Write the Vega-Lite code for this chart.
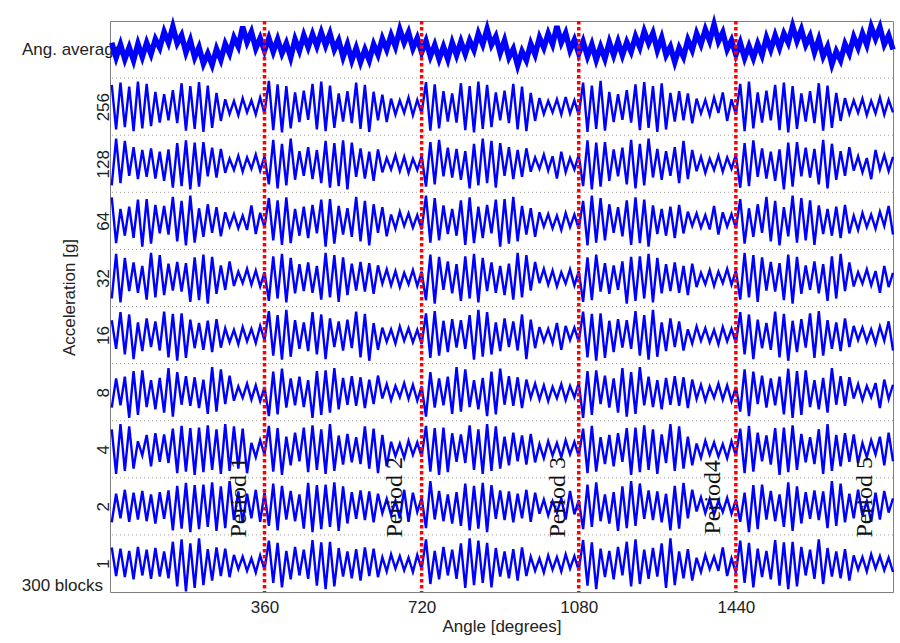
{
"$schema":"https://vega.github.io/schema/vega-lite/v6.json",
"width":783,"height":571,
"autosize":{"type":"none"},
"padding":{"left":110,"top":21,"right":7,"bottom":51},
"background":"white",
"config":{"font":"Liberation Sans","view":{"stroke":"#7f7f7f","strokeWidth":1},
"axis":{"labelFont":"Liberation Sans","titleFont":"Liberation Sans","labelFontSize":17,"titleFontSize":17,"titleFontWeight":"normal","labelColor":"#222","titleColor":"#222","domain":false}},
"datasets":{
"labels":[{"t":"Ang. average","x":36,"y":9.5},{"t":"300 blocks","x":-10,"y":0.1}],
"periods":[{"t":"Period 1","x":302,"y":1.66},{"t":"Period 2","x":660,"y":1.66},{"t":"Period 3","x":1032,"y":1.66},{"t":"Period4","x":1387,"y":1.66},{"t":"Period 5","x":1736,"y":1.66}],
"cuts":[{"x":360},{"x":720},{"x":1080},{"x":1440}],
"grid":[{"y":1},{"y":2},{"y":3},{"y":4},{"y":5},{"y":6},{"y":7},{"y":8},{"y":9}],
"sig":[
{"x":10,"a":9.62,"b":8.88,"c":7.12,"d":6.91,"e":5.14,"f":4.76,"g":3.23,"h":2.85,"i":1.22,"j":0.78},
{"x":20,"a":9.36,"b":8.10,"c":7.94,"d":6.11,"e":5.92,"f":4.26,"g":3.74,"h":2.07,"i":1.72,"j":0.28},
{"x":30,"a":9.59,"b":8.92,"c":7.16,"d":6.71,"e":5.07,"f":4.90,"g":3.27,"h":2.94,"i":1.29,"j":0.76},
{"x":40,"a":9.33,"b":8.14,"c":7.90,"d":6.24,"e":5.85,"f":4.16,"g":3.77,"h":2.12,"i":1.79,"j":0.26},
{"x":50,"a":9.54,"b":8.85,"c":7.29,"d":6.75,"e":5.27,"f":4.86,"g":3.05,"h":2.90,"i":1.23,"j":0.72},
{"x":60,"a":9.31,"b":8.07,"c":7.79,"d":6.20,"e":5.77,"f":4.08,"g":3.87,"h":2.16,"i":1.74,"j":0.22},
{"x":70,"a":9.60,"b":8.94,"c":7.23,"d":6.87,"e":5.24,"f":4.72,"g":3.10,"h":2.64,"i":1.27,"j":0.79},
{"x":80,"a":9.37,"b":8.12,"c":7.74,"d":6.05,"e":5.71,"f":4.22,"g":3.88,"h":2.39,"i":1.77,"j":0.29},
{"x":90,"a":9.62,"b":8.90,"c":7.27,"d":6.88,"e":5.12,"f":4.79,"g":3.24,"h":2.75,"i":1.24,"j":0.74},
{"x":100,"a":9.42,"b":8.16,"c":7.77,"d":6.10,"e":5.94,"f":4.29,"g":3.71,"h":2.20,"i":1.71,"j":0.23},
{"x":110,"a":9.68,"b":8.76,"c":7.24,"d":6.78,"e":5.16,"f":4.74,"g":3.20,"h":2.78,"i":1.20,"j":0.77},
{"x":120,"a":9.53,"b":8.22,"c":7.71,"d":6.28,"e":5.90,"f":4.23,"g":3.75,"h":2.28,"i":1.75,"j":0.27},
{"x":130,"a":9.81,"b":8.72,"c":7.20,"d":6.76,"e":5.20,"f":4.91,"g":3.14,"h":2.76,"i":1.28,"j":0.71},
{"x":140,"a":9.62,"b":8.26,"c":7.75,"d":6.26,"e":5.75,"f":4.11,"g":3.92,"h":2.26,"i":1.78,"j":0.24},
{"x":150,"a":9.90,"b":8.79,"c":7.08,"d":6.92,"e":5.28,"f":4.87,"g":3.07,"h":2.86,"i":1.08,"j":0.88},
{"x":160,"a":9.61,"b":8.21,"c":7.86,"d":6.14,"e":5.78,"f":4.05,"g":3.85,"h":2.08,"i":1.86,"j":0.10},
{"x":170,"a":9.75,"b":8.91,"c":7.11,"d":6.85,"e":5.26,"f":4.88,"g":3.28,"h":2.91,"i":1.11,"j":0.92},
{"x":180,"a":9.45,"b":8.08,"c":7.91,"d":6.07,"e":5.76,"f":4.10,"g":3.78,"h":2.11,"i":1.91,"j":0.01},
{"x":190,"a":9.66,"b":8.86,"c":7.05,"d":6.94,"e":5.08,"f":4.77,"g":3.26,"h":2.87,"i":1.05,"j":0.85},
{"x":200,"a":9.36,"b":8.11,"c":7.87,"d":6.12,"e":5.86,"f":4.27,"g":3.76,"h":2.05,"i":1.87,"j":0.07},
{"x":210,"a":9.54,"b":8.93,"c":7.10,"d":6.72,"e":5.11,"f":4.71,"g":3.22,"h":2.88,"i":1.10,"j":0.94},
{"x":220,"a":9.25,"b":8.06,"c":7.88,"d":6.22,"e":5.91,"f":4.24,"g":3.72,"h":2.10,"i":1.88,"j":0.12},
{"x":230,"a":9.43,"b":8.87,"c":7.28,"d":6.79,"e":5.05,"f":4.75,"g":3.12,"h":2.92,"i":1.14,"j":0.75},
{"x":240,"a":9.23,"b":8.13,"c":7.78,"d":6.29,"e":5.87,"f":4.20,"g":3.94,"h":2.14,"i":1.92,"j":0.20},
{"x":250,"a":9.51,"b":8.74,"c":7.26,"d":6.74,"e":5.22,"f":4.78,"g":3.16,"h":2.85,"i":1.07,"j":0.78},
{"x":260,"a":9.32,"b":8.25,"c":7.76,"d":6.23,"e":5.72,"f":4.28,"g":3.90,"h":2.07,"i":1.85,"j":0.28},
{"x":270,"a":9.60,"b":8.63,"c":7.34,"d":6.65,"e":5.29,"f":4.62,"g":3.29,"h":2.94,"i":1.12,"j":0.76},
{"x":280,"a":9.43,"b":8.37,"c":7.59,"d":6.40,"e":5.79,"f":4.37,"g":3.79,"h":2.12,"i":1.94,"j":0.26},
{"x":290,"a":9.71,"b":8.60,"c":7.39,"d":6.62,"e":5.36,"f":4.59,"g":3.35,"h":2.90,"i":1.26,"j":0.65},
{"x":300,"a":9.55,"b":8.35,"c":7.64,"d":6.37,"e":5.61,"f":4.34,"g":3.60,"h":2.16,"i":1.76,"j":0.40},
{"x":310,"a":9.90,"b":8.65,"c":7.36,"d":6.59,"e":5.41,"f":4.64,"g":3.40,"h":2.86,"i":1.22,"j":0.62},
{"x":320,"a":9.63,"b":8.40,"c":7.61,"d":6.34,"e":5.66,"f":4.39,"g":3.65,"h":2.08,"i":1.72,"j":0.37},
{"x":330,"a":9.81,"b":8.61,"c":7.41,"d":6.77,"e":5.38,"f":4.61,"g":3.37,"h":2.61,"i":1.29,"j":0.59},
{"x":340,"a":9.52,"b":8.36,"c":7.66,"d":6.27,"e":5.63,"f":4.36,"g":3.62,"h":2.36,"i":1.79,"j":0.34},
{"x":350,"a":9.70,"b":8.66,"c":7.38,"d":6.64,"e":5.35,"f":4.66,"g":3.34,"h":2.66,"i":1.23,"j":0.64},
{"x":360,"a":9.48,"b":8.38,"c":7.63,"d":6.39,"e":5.60,"f":4.41,"g":3.59,"h":2.41,"i":1.74,"j":0.39},
{"x":370,"a":9.70,"b":8.95,"c":7.14,"d":6.90,"e":5.10,"f":4.92,"g":3.08,"h":2.91,"i":1.16,"j":0.90},
{"x":380,"a":9.46,"b":8.09,"c":7.92,"d":6.16,"e":5.88,"f":4.14,"g":3.86,"h":2.11,"i":1.90,"j":0.16},
{"x":390,"a":9.68,"b":8.89,"c":7.07,"d":6.86,"e":5.14,"f":4.85,"g":3.11,"h":2.87,"i":1.08,"j":0.86},
{"x":400,"a":9.43,"b":8.05,"c":7.85,"d":6.08,"e":5.92,"f":4.07,"g":3.91,"h":2.05,"i":1.86,"j":0.08},
{"x":410,"a":9.61,"b":8.86,"c":7.12,"d":6.91,"e":5.07,"f":4.94,"g":3.23,"h":2.72,"i":1.27,"j":0.72},
{"x":420,"a":9.36,"b":8.12,"c":7.94,"d":6.11,"e":5.85,"f":4.12,"g":3.74,"h":2.22,"i":1.77,"j":0.22},
{"x":430,"a":9.68,"b":8.75,"c":7.22,"d":6.71,"e":5.23,"f":4.76,"g":3.27,"h":2.79,"i":1.24,"j":0.79},
{"x":440,"a":9.48,"b":8.23,"c":7.72,"d":6.24,"e":5.74,"f":4.26,"g":3.77,"h":2.29,"i":1.71,"j":0.29},
{"x":450,"a":9.75,"b":8.78,"c":7.29,"d":6.75,"e":5.27,"f":4.72,"g":3.24,"h":2.88,"i":1.11,"j":0.74},
{"x":460,"a":9.54,"b":8.27,"c":7.79,"d":6.20,"e":5.77,"f":4.22,"g":3.71,"h":2.10,"i":1.91,"j":0.23},
{"x":470,"a":9.77,"b":8.90,"c":7.23,"d":6.78,"e":5.24,"f":4.90,"g":3.05,"h":2.92,"i":1.05,"j":0.91},
{"x":480,"a":9.56,"b":8.10,"c":7.74,"d":6.28,"e":5.71,"f":4.16,"g":3.87,"h":2.14,"i":1.87,"j":0.11},
{"x":490,"a":9.80,"b":8.94,"c":7.16,"d":6.87,"e":5.12,"f":4.86,"g":3.10,"h":2.85,"i":1.10,"j":0.87},
{"x":500,"a":9.57,"b":8.07,"c":7.90,"d":6.05,"e":5.94,"f":4.08,"g":3.88,"h":2.07,"i":1.88,"j":0.05},
{"x":510,"a":9.78,"b":8.87,"c":7.08,"d":6.88,"e":5.16,"f":4.79,"g":3.14,"h":2.94,"i":1.14,"j":0.88},
{"x":520,"a":9.50,"b":8.13,"c":7.86,"d":6.10,"e":5.90,"f":4.29,"g":3.92,"h":2.12,"i":1.92,"j":0.10},
{"x":530,"a":9.66,"b":8.73,"c":7.11,"d":6.76,"e":5.08,"f":4.74,"g":3.20,"h":2.74,"i":1.07,"j":0.77},
{"x":540,"a":9.37,"b":8.24,"c":7.91,"d":6.26,"e":5.86,"f":4.23,"g":3.75,"h":2.23,"i":1.85,"j":0.27},
{"x":550,"a":9.59,"b":8.77,"c":7.05,"d":6.72,"e":5.20,"f":4.77,"g":3.28,"h":2.77,"i":1.20,"j":0.71},
{"x":560,"a":9.31,"b":8.21,"c":7.87,"d":6.22,"e":5.75,"f":4.27,"g":3.78,"h":2.27,"i":1.75,"j":0.24},
{"x":570,"a":9.53,"b":8.92,"c":7.27,"d":6.92,"e":5.28,"f":4.91,"g":3.26,"h":2.71,"i":1.28,"j":0.75},
{"x":580,"a":9.28,"b":8.11,"c":7.77,"d":6.14,"e":5.78,"f":4.11,"g":3.76,"h":2.24,"i":1.78,"j":0.20},
{"x":590,"a":9.50,"b":8.88,"c":7.24,"d":6.85,"e":5.26,"f":4.87,"g":3.22,"h":2.90,"i":1.26,"j":0.78},
{"x":600,"a":9.31,"b":8.06,"c":7.71,"d":6.07,"e":5.76,"f":4.05,"g":3.72,"h":2.16,"i":1.76,"j":0.28},
{"x":610,"a":9.59,"b":8.76,"c":7.20,"d":6.79,"e":5.22,"f":4.71,"g":3.29,"h":2.86,"i":1.22,"j":0.76},
{"x":620,"a":9.41,"b":8.26,"c":7.75,"d":6.29,"e":5.72,"f":4.24,"g":3.79,"h":2.08,"i":1.72,"j":0.26},
{"x":630,"a":9.69,"b":8.71,"c":7.35,"d":6.74,"e":5.40,"f":4.63,"g":3.39,"h":2.75,"i":1.38,"j":0.61},
{"x":640,"a":9.50,"b":8.23,"c":7.60,"d":6.23,"e":5.65,"f":4.38,"g":3.64,"h":2.20,"i":1.63,"j":0.36},
{"x":650,"a":9.75,"b":8.64,"c":7.40,"d":6.61,"e":5.37,"f":4.60,"g":3.36,"h":2.63,"i":1.35,"j":0.66},
{"x":660,"a":9.55,"b":8.36,"c":7.65,"d":6.36,"e":5.62,"f":4.35,"g":3.61,"h":2.38,"i":1.60,"j":0.41},
{"x":670,"a":9.85,"b":8.61,"c":7.37,"d":6.66,"e":5.34,"f":4.65,"g":3.41,"h":2.60,"i":1.29,"j":0.63},
{"x":680,"a":9.62,"b":8.39,"c":7.62,"d":6.41,"e":5.59,"f":4.40,"g":3.66,"h":2.35,"i":1.79,"j":0.38},
{"x":690,"a":9.80,"b":8.66,"c":7.34,"d":6.63,"e":5.39,"f":4.62,"g":3.38,"h":2.65,"i":1.23,"j":0.60},
{"x":700,"a":9.52,"b":8.35,"c":7.59,"d":6.38,"e":5.64,"f":4.37,"g":3.63,"h":2.40,"i":1.74,"j":0.35},
{"x":710,"a":9.70,"b":8.62,"c":7.39,"d":6.60,"e":5.36,"f":4.59,"g":3.35,"h":2.62,"i":1.40,"j":0.65},
{"x":720,"a":9.45,"b":8.38,"c":7.64,"d":6.35,"e":5.61,"f":4.34,"g":3.60,"h":2.37,"i":1.65,"j":0.40},
{"x":730,"a":9.65,"b":8.93,"c":7.10,"d":6.94,"e":5.11,"f":4.88,"g":3.07,"h":2.91,"i":1.12,"j":0.92},
{"x":740,"a":9.38,"b":8.08,"c":7.88,"d":6.12,"e":5.91,"f":4.10,"g":3.85,"h":2.11,"i":1.94,"j":0.14},
{"x":750,"a":9.58,"b":8.89,"c":7.14,"d":6.90,"e":5.05,"f":4.92,"g":3.23,"h":2.87,"i":1.27,"j":0.72},
{"x":760,"a":9.33,"b":8.12,"c":7.92,"d":6.16,"e":5.87,"f":4.14,"g":3.74,"h":2.05,"i":1.77,"j":0.22},
{"x":770,"a":9.55,"b":8.77,"c":7.28,"d":6.77,"e":5.29,"f":4.75,"g":3.27,"h":2.88,"i":1.24,"j":0.79},
{"x":780,"a":9.33,"b":8.24,"c":7.78,"d":6.27,"e":5.79,"f":4.20,"g":3.77,"h":2.10,"i":1.71,"j":0.29},
{"x":790,"a":9.62,"b":8.73,"c":7.26,"d":6.71,"e":5.23,"f":4.78,"g":3.12,"h":2.78,"i":1.20,"j":0.74},
{"x":800,"a":9.40,"b":8.22,"c":7.76,"d":6.24,"e":5.74,"f":4.28,"g":3.94,"h":2.28,"i":1.75,"j":0.23},
{"x":810,"a":9.64,"b":8.91,"c":7.22,"d":6.86,"e":5.10,"f":4.76,"g":3.16,"h":2.76,"i":1.16,"j":0.85},
{"x":820,"a":9.42,"b":8.09,"c":7.72,"d":6.08,"e":5.88,"f":4.26,"g":3.90,"h":2.26,"i":1.90,"j":0.07},
{"x":830,"a":9.66,"b":8.86,"c":7.07,"d":6.91,"e":5.14,"f":4.85,"g":3.24,"h":2.92,"i":1.08,"j":0.94},
{"x":840,"a":9.49,"b":8.05,"c":7.85,"d":6.11,"e":5.92,"f":4.07,"g":3.71,"h":2.14,"i":1.86,"j":0.12},
{"x":850,"a":9.78,"b":8.94,"c":7.12,"d":6.75,"e":5.07,"f":4.94,"g":3.20,"h":2.85,"i":1.11,"j":0.90},
{"x":860,"a":9.59,"b":8.11,"c":7.94,"d":6.20,"e":5.85,"f":4.12,"g":3.75,"h":2.07,"i":1.91,"j":0.16},
{"x":870,"a":9.86,"b":8.88,"c":7.16,"d":6.78,"e":5.27,"f":4.90,"g":3.08,"h":2.94,"i":1.05,"j":0.86},
{"x":880,"a":9.58,"b":8.14,"c":7.90,"d":6.28,"e":5.77,"f":4.16,"g":3.86,"h":2.12,"i":1.87,"j":0.08},
{"x":890,"a":9.73,"b":8.75,"c":7.08,"d":6.87,"e":5.24,"f":4.72,"g":3.11,"h":2.90,"i":1.28,"j":0.77},
{"x":900,"a":9.44,"b":8.26,"c":7.86,"d":6.05,"e":5.71,"f":4.22,"g":3.91,"h":2.16,"i":1.78,"j":0.27},
{"x":910,"a":9.66,"b":8.78,"c":7.29,"d":6.88,"e":5.20,"f":4.79,"g":3.28,"h":2.72,"i":1.26,"j":0.71},
{"x":920,"a":9.36,"b":8.21,"c":7.79,"d":6.10,"e":5.75,"f":4.29,"g":3.78,"h":2.22,"i":1.76,"j":0.24},
{"x":930,"a":9.51,"b":8.90,"c":7.23,"d":6.92,"e":5.12,"f":4.74,"g":3.26,"h":2.79,"i":1.22,"j":0.75},
{"x":940,"a":9.22,"b":8.10,"c":7.74,"d":6.14,"e":5.94,"f":4.23,"g":3.76,"h":2.29,"i":1.72,"j":0.20},
{"x":950,"a":9.47,"b":8.85,"c":7.27,"d":6.76,"e":5.16,"f":4.86,"g":3.22,"h":2.74,"i":1.29,"j":0.78},
{"x":960,"a":9.31,"b":8.07,"c":7.77,"d":6.26,"e":5.90,"f":4.08,"g":3.72,"h":2.23,"i":1.79,"j":0.28},
{"x":970,"a":9.60,"b":8.74,"c":7.36,"d":6.72,"e":5.28,"f":4.77,"g":3.40,"h":2.77,"i":1.23,"j":0.62},
{"x":980,"a":9.41,"b":8.25,"c":7.61,"d":6.22,"e":5.78,"f":4.27,"g":3.65,"h":2.27,"i":1.74,"j":0.37},
{"x":990,"a":9.71,"b":8.65,"c":7.41,"d":6.65,"e":5.41,"f":4.64,"g":3.37,"h":2.59,"i":1.37,"j":0.59},
{"x":1000,"a":9.53,"b":8.37,"c":7.66,"d":6.40,"e":5.66,"f":4.39,"g":3.62,"h":2.34,"i":1.62,"j":0.34},
{"x":1010,"a":9.78,"b":8.60,"c":7.38,"d":6.62,"e":5.38,"f":4.61,"g":3.34,"h":2.64,"i":1.34,"j":0.64},
{"x":1020,"a":9.59,"b":8.40,"c":7.63,"d":6.37,"e":5.63,"f":4.36,"g":3.59,"h":2.39,"i":1.59,"j":0.39},
{"x":1030,"a":9.91,"b":8.63,"c":7.24,"d":6.59,"e":5.35,"f":4.71,"g":3.39,"h":2.61,"i":1.39,"j":0.61},
{"x":1040,"a":9.62,"b":8.36,"c":7.71,"d":6.34,"e":5.60,"f":4.24,"g":3.64,"h":2.36,"i":1.64,"j":0.36},
{"x":1050,"a":9.79,"b":8.67,"c":7.35,"d":6.64,"e":5.40,"f":4.66,"g":3.36,"h":2.66,"i":1.27,"j":0.66},
{"x":1060,"a":9.49,"b":8.38,"c":7.60,"d":6.39,"e":5.65,"f":4.41,"g":3.61,"h":2.41,"i":1.77,"j":0.41},
{"x":1070,"a":9.67,"b":8.61,"c":7.40,"d":6.61,"e":5.37,"f":4.63,"g":3.41,"h":2.63,"i":1.36,"j":0.63},
{"x":1080,"a":9.43,"b":8.35,"c":7.65,"d":6.36,"e":5.62,"f":4.38,"g":3.66,"h":2.38,"i":1.61,"j":0.38},
{"x":1090,"a":9.64,"b":8.92,"c":7.11,"d":6.85,"e":5.08,"f":4.91,"g":3.05,"h":2.86,"i":1.10,"j":0.91},
{"x":1100,"a":9.38,"b":8.06,"c":7.91,"d":6.07,"e":5.86,"f":4.11,"g":3.87,"h":2.08,"i":1.88,"j":0.11},
{"x":1110,"a":9.59,"b":8.87,"c":7.05,"d":6.94,"e":5.11,"f":4.87,"g":3.10,"h":2.91,"i":1.14,"j":0.87},
{"x":1120,"a":9.32,"b":8.11,"c":7.87,"d":6.12,"e":5.91,"f":4.05,"g":3.88,"h":2.11,"i":1.92,"j":0.05},
{"x":1130,"a":9.55,"b":8.95,"c":7.10,"d":6.90,"e":5.26,"f":4.88,"g":3.29,"h":2.71,"i":1.24,"j":0.76},
{"x":1140,"a":9.34,"b":8.08,"c":7.88,"d":6.16,"e":5.76,"f":4.10,"g":3.79,"h":2.24,"i":1.71,"j":0.26},
{"x":1150,"a":9.63,"b":8.76,"c":7.20,"d":6.79,"e":5.22,"f":4.75,"g":3.23,"h":2.75,"i":1.20,"j":0.72},
{"x":1160,"a":9.40,"b":8.23,"c":7.75,"d":6.29,"e":5.72,"f":4.20,"g":3.74,"h":2.20,"i":1.75,"j":0.22},
{"x":1170,"a":9.64,"b":8.72,"c":7.28,"d":6.74,"e":5.29,"f":4.78,"g":3.14,"h":2.78,"i":1.07,"j":0.79},
{"x":1180,"a":9.40,"b":8.27,"c":7.78,"d":6.23,"e":5.79,"f":4.28,"g":3.92,"h":2.28,"i":1.85,"j":0.29},
{"x":1190,"a":9.63,"b":8.79,"c":7.14,"d":6.86,"e":5.05,"f":4.76,"g":3.07,"h":2.87,"i":1.12,"j":0.88},
{"x":1200,"a":9.46,"b":8.22,"c":7.92,"d":6.08,"e":5.87,"f":4.26,"g":3.85,"h":2.05,"i":1.94,"j":0.10},
{"x":1210,"a":9.73,"b":8.89,"c":7.07,"d":6.91,"e":5.10,"f":4.92,"g":3.12,"h":2.88,"i":1.16,"j":0.92},
{"x":1220,"a":9.54,"b":8.09,"c":7.85,"d":6.11,"e":5.88,"f":4.14,"g":3.94,"h":2.10,"i":1.90,"j":0.14},
{"x":1230,"a":9.82,"b":8.93,"c":7.12,"d":6.87,"e":5.14,"f":4.85,"g":3.27,"h":2.92,"i":1.28,"j":0.74},
{"x":1240,"a":9.61,"b":8.13,"c":7.94,"d":6.05,"e":5.92,"f":4.07,"g":3.77,"h":2.14,"i":1.78,"j":0.23},
{"x":1250,"a":9.79,"b":8.86,"c":7.26,"d":6.77,"e":5.07,"f":4.94,"g":3.24,"h":2.85,"i":1.26,"j":0.77},
{"x":1260,"a":9.49,"b":8.06,"c":7.76,"d":6.27,"e":5.85,"f":4.12,"g":3.71,"h":2.07,"i":1.76,"j":0.27},
{"x":1270,"a":9.71,"b":8.91,"c":7.22,"d":6.71,"e":5.23,"f":4.72,"g":3.20,"h":2.76,"i":1.22,"j":0.85},
{"x":1280,"a":9.40,"b":8.10,"c":7.72,"d":6.24,"e":5.74,"f":4.22,"g":3.75,"h":2.26,"i":1.72,"j":0.07},
{"x":1290,"a":9.55,"b":8.74,"c":7.29,"d":6.75,"e":5.27,"f":4.79,"g":3.28,"h":2.94,"i":1.08,"j":0.94},
{"x":1300,"a":9.28,"b":8.24,"c":7.79,"d":6.20,"e":5.77,"f":4.29,"g":3.78,"h":2.12,"i":1.86,"j":0.12},
{"x":1310,"a":9.53,"b":8.77,"c":7.16,"d":6.78,"e":5.24,"f":4.74,"g":3.26,"h":2.90,"i":1.11,"j":0.71},
{"x":1320,"a":9.37,"b":8.26,"c":7.90,"d":6.28,"e":5.71,"f":4.23,"g":3.76,"h":2.16,"i":1.91,"j":0.24},
{"x":1330,"a":9.67,"b":8.73,"c":7.23,"d":6.66,"e":5.20,"f":4.60,"g":3.22,"h":2.72,"i":1.29,"j":0.75},
{"x":1340,"a":9.49,"b":8.21,"c":7.74,"d":6.41,"e":5.75,"f":4.35,"g":3.72,"h":2.22,"i":1.79,"j":0.20},
{"x":1350,"a":9.78,"b":8.64,"c":7.37,"d":6.63,"e":5.34,"f":4.65,"g":3.38,"h":2.60,"i":1.41,"j":0.60},
{"x":1360,"a":9.59,"b":8.38,"c":7.62,"d":6.38,"e":5.59,"f":4.40,"g":3.63,"h":2.35,"i":1.66,"j":0.35},
{"x":1370,"a":9.85,"b":8.62,"c":7.34,"d":6.60,"e":5.39,"f":4.62,"g":3.35,"h":2.65,"i":1.38,"j":0.65},
{"x":1380,"a":9.65,"b":8.35,"c":7.59,"d":6.35,"e":5.64,"f":4.37,"g":3.60,"h":2.40,"i":1.63,"j":0.40},
{"x":1390,"a":9.94,"b":8.66,"c":7.39,"d":6.76,"e":5.36,"f":4.59,"g":3.40,"h":2.62,"i":1.35,"j":0.62},
{"x":1400,"a":9.64,"b":8.39,"c":7.64,"d":6.26,"e":5.61,"f":4.34,"g":3.65,"h":2.37,"i":1.60,"j":0.37},
{"x":1410,"a":9.80,"b":8.75,"c":7.36,"d":6.65,"e":5.41,"f":4.64,"g":3.37,"h":2.59,"i":1.40,"j":0.78},
{"x":1420,"a":9.50,"b":8.25,"c":7.61,"d":6.40,"e":5.66,"f":4.39,"g":3.62,"h":2.34,"i":1.65,"j":0.28},
{"x":1430,"a":9.66,"b":8.63,"c":7.41,"d":6.62,"e":5.38,"f":4.61,"g":3.34,"h":2.64,"i":1.37,"j":0.59},
{"x":1440,"a":9.41,"b":8.36,"c":7.66,"d":6.37,"e":5.63,"f":4.36,"g":3.59,"h":2.39,"i":1.62,"j":0.34},
{"x":1450,"a":9.62,"b":8.90,"c":7.08,"d":6.88,"e":5.12,"f":4.90,"g":3.16,"h":2.86,"i":1.23,"j":0.90},
{"x":1460,"a":9.35,"b":8.07,"c":7.86,"d":6.10,"e":5.94,"f":4.16,"g":3.90,"h":2.08,"i":1.74,"j":0.16},
{"x":1470,"a":9.56,"b":8.94,"c":7.11,"d":6.72,"e":5.16,"f":4.86,"g":3.08,"h":2.91,"i":1.05,"j":0.86},
{"x":1480,"a":9.35,"b":8.12,"c":7.91,"d":6.22,"e":5.90,"f":4.08,"g":3.86,"h":2.11,"i":1.87,"j":0.08},
{"x":1490,"a":9.60,"b":8.75,"c":7.27,"d":6.79,"e":5.08,"f":4.77,"g":3.29,"h":2.79,"i":1.10,"j":0.76},
{"x":1500,"a":9.40,"b":8.22,"c":7.77,"d":6.29,"e":5.86,"f":4.27,"g":3.79,"h":2.29,"i":1.88,"j":0.26},
{"x":1510,"a":9.71,"b":8.78,"c":7.24,"d":6.92,"e":5.28,"f":4.71,"g":3.23,"h":2.74,"i":1.27,"j":0.72},
{"x":1520,"a":9.50,"b":8.26,"c":7.71,"d":6.14,"e":5.78,"f":4.24,"g":3.74,"h":2.23,"i":1.77,"j":0.22},
{"x":1530,"a":9.75,"b":8.88,"c":7.20,"d":6.85,"e":5.26,"f":4.91,"g":3.27,"h":2.87,"i":1.24,"j":0.91},
{"x":1540,"a":9.53,"b":8.09,"c":7.75,"d":6.07,"e":5.76,"f":4.11,"g":3.77,"h":2.05,"i":1.71,"j":0.11},
{"x":1550,"a":9.78,"b":8.92,"c":7.05,"d":6.74,"e":5.11,"f":4.87,"g":3.11,"h":2.88,"i":1.14,"j":0.87},
{"x":1560,"a":9.62,"b":8.05,"c":7.87,"d":6.23,"e":5.91,"f":4.05,"g":3.91,"h":2.10,"i":1.92,"j":0.05},
{"x":1570,"a":9.91,"b":8.86,"c":7.10,"d":6.94,"e":5.05,"f":4.75,"g":3.05,"h":2.92,"i":1.07,"j":0.88},
{"x":1580,"a":9.65,"b":8.11,"c":7.88,"d":6.12,"e":5.87,"f":4.20,"g":3.87,"h":2.14,"i":1.85,"j":0.10},
{"x":1590,"a":9.85,"b":8.73,"c":7.28,"d":6.90,"e":5.22,"f":4.78,"g":3.10,"h":2.77,"i":1.20,"j":0.79},
{"x":1600,"a":9.58,"b":8.24,"c":7.78,"d":6.16,"e":5.72,"f":4.28,"g":3.88,"h":2.27,"i":1.75,"j":0.29},
{"x":1610,"a":9.74,"b":8.77,"c":7.26,"d":6.86,"e":5.29,"f":4.88,"g":3.24,"h":2.71,"i":1.28,"j":0.74},
{"x":1620,"a":9.45,"b":8.21,"c":7.76,"d":6.08,"e":5.79,"f":4.10,"g":3.71,"h":2.24,"i":1.78,"j":0.23},
{"x":1630,"a":9.68,"b":8.91,"c":7.14,"d":6.77,"e":5.23,"f":4.92,"g":3.20,"h":2.85,"i":1.26,"j":0.92},
{"x":1640,"a":9.38,"b":8.08,"c":7.92,"d":6.27,"e":5.74,"f":4.14,"g":3.75,"h":2.07,"i":1.76,"j":0.14},
{"x":1650,"a":9.55,"b":8.87,"c":7.07,"d":6.71,"e":5.10,"f":4.76,"g":3.14,"h":2.94,"i":1.12,"j":0.77},
{"x":1660,"a":9.24,"b":8.13,"c":7.85,"d":6.24,"e":5.88,"f":4.26,"g":3.92,"h":2.12,"i":1.94,"j":0.27},
{"x":1670,"a":9.47,"b":8.74,"c":7.22,"d":6.75,"e":5.14,"f":4.72,"g":3.28,"h":2.75,"i":1.16,"j":0.71},
{"x":1680,"a":9.31,"b":8.25,"c":7.72,"d":6.20,"e":5.92,"f":4.22,"g":3.78,"h":2.20,"i":1.90,"j":0.24},
{"x":1690,"a":9.60,"b":8.65,"c":7.29,"d":6.78,"e":5.27,"f":4.79,"g":3.26,"h":2.78,"i":1.22,"j":0.75},
{"x":1700,"a":9.43,"b":8.37,"c":7.79,"d":6.28,"e":5.77,"f":4.29,"g":3.76,"h":2.28,"i":1.72,"j":0.20},
{"x":1710,"a":9.72,"b":8.61,"c":7.38,"d":6.59,"e":5.35,"f":4.66,"g":3.39,"h":2.76,"i":1.29,"j":0.64},
{"x":1720,"a":9.53,"b":8.39,"c":7.63,"d":6.34,"e":5.60,"f":4.41,"g":3.64,"h":2.26,"i":1.79,"j":0.39},
{"x":1730,"a":9.78,"b":8.64,"c":7.35,"d":6.64,"e":5.40,"f":4.63,"g":3.36,"h":2.61,"i":1.34,"j":0.61},
{"x":1740,"a":9.58,"b":8.35,"c":7.60,"d":6.39,"e":5.65,"f":4.38,"g":3.61,"h":2.36,"i":1.59,"j":0.36},
{"x":1750,"a":9.90,"b":8.60,"c":7.23,"d":6.61,"e":5.37,"f":4.60,"g":3.41,"h":2.66,"i":1.23,"j":0.66},
{"x":1760,"a":9.69,"b":8.38,"c":7.74,"d":6.36,"e":5.62,"f":4.35,"g":3.66,"h":2.41,"i":1.74,"j":0.41},
{"x":1770,"a":9.89,"b":8.66,"c":7.40,"d":6.66,"e":5.24,"f":4.65,"g":3.22,"h":2.72,"i":1.27,"j":0.63},
{"x":1780,"a":9.59,"b":8.36,"c":7.65,"d":6.41,"e":5.71,"f":4.40,"g":3.72,"h":2.22,"i":1.77,"j":0.38},
{"x":1790,"a":9.75,"b":8.62,"c":7.37,"d":6.76,"e":5.34,"f":4.74,"g":3.38,"h":2.79,"i":1.39,"j":0.60},
{"x":1800,"a":9.50,"b":8.40,"c":7.62,"d":6.26,"e":5.59,"f":4.23,"g":3.63,"h":2.29,"i":1.64,"j":0.35}
]},
"layer":[
{"data":{"name":"grid"},
"mark":{"type":"rule","color":"#a0a0a0","strokeWidth":1,"strokeDash":[1,3]},
"encoding":{"y":{"field":"y","type":"quantitative","scale":{"domain":[0,10],"nice":false}}}},
{"data":{"name":"labels"},
"mark":{"type":"text","align":"right","baseline":"middle","fontSize":17,"font":"Liberation Sans","color":"#222"},
"encoding":{"x":{"field":"x","type":"quantitative","scale":{"domain":[6,1800],"nice":false,"zero":false}},
"y":{"field":"y","type":"quantitative","scale":{"domain":[0,10],"nice":false}},
"text":{"field":"t"}}},
{"data":{"name":"sig"},
"transform":[{"fold":["b","c","d","e","f","g","h","i","j"],"as":["k","v"]}],
"mark":{"type":"line","color":"#0000ff","strokeWidth":2.4},
"encoding":{
"x":{"field":"x","type":"quantitative","scale":{"domain":[6,1800],"nice":false,"zero":false},
"axis":{"values":[360,720,1080,1440],"format":"d","title":"Angle [degrees]","grid":false,"ticks":false,"labelPadding":7,"titlePadding":3,"labelFlush":false}},
"y":{"field":"v","type":"quantitative","scale":{"domain":[0,10],"nice":false},
"axis":{"values":[0.5,1.5,2.5,3.5,4.5,5.5,6.5,7.5,8.5],"title":"Acceleration [g]",
"labelExpr":"['1','2','4','8','16','32','64','128','256'][floor(datum.value)]",
"labelFont":"Liberation Sans","labelAngle":270,"labelAlign":"center","labelBaseline":"alphabetic","labelPadding":2,"ticks":false,
"grid":false,"titlePadding":16,"titleY":276}},
"detail":{"field":"k"}}},
{"data":{"name":"sig"},
"mark":{"type":"line","color":"#0000ff","strokeWidth":5.5},
"encoding":{
"x":{"field":"x","type":"quantitative","scale":{"domain":[6,1800],"nice":false,"zero":false}},
"y":{"field":"a","type":"quantitative","scale":{"domain":[0,10],"nice":false}}}},
{"data":{"name":"cuts"},
"mark":{"type":"rule","color":"#ff0000","strokeWidth":3.5,"strokeDash":[3.5,2.5]},
"encoding":{"x":{"field":"x","type":"quantitative","scale":{"domain":[6,1800],"nice":false,"zero":false}}}},
{"data":{"name":"periods"},
"mark":{"type":"text","angle":270,"align":"center","baseline":"middle","fontSize":24,"font":"Liberation Serif","color":"#111"},
"encoding":{"x":{"field":"x","type":"quantitative","scale":{"domain":[6,1800],"nice":false,"zero":false}},
"y":{"field":"y","type":"quantitative","scale":{"domain":[0,10],"nice":false}},
"text":{"field":"t"}}}
]
}
